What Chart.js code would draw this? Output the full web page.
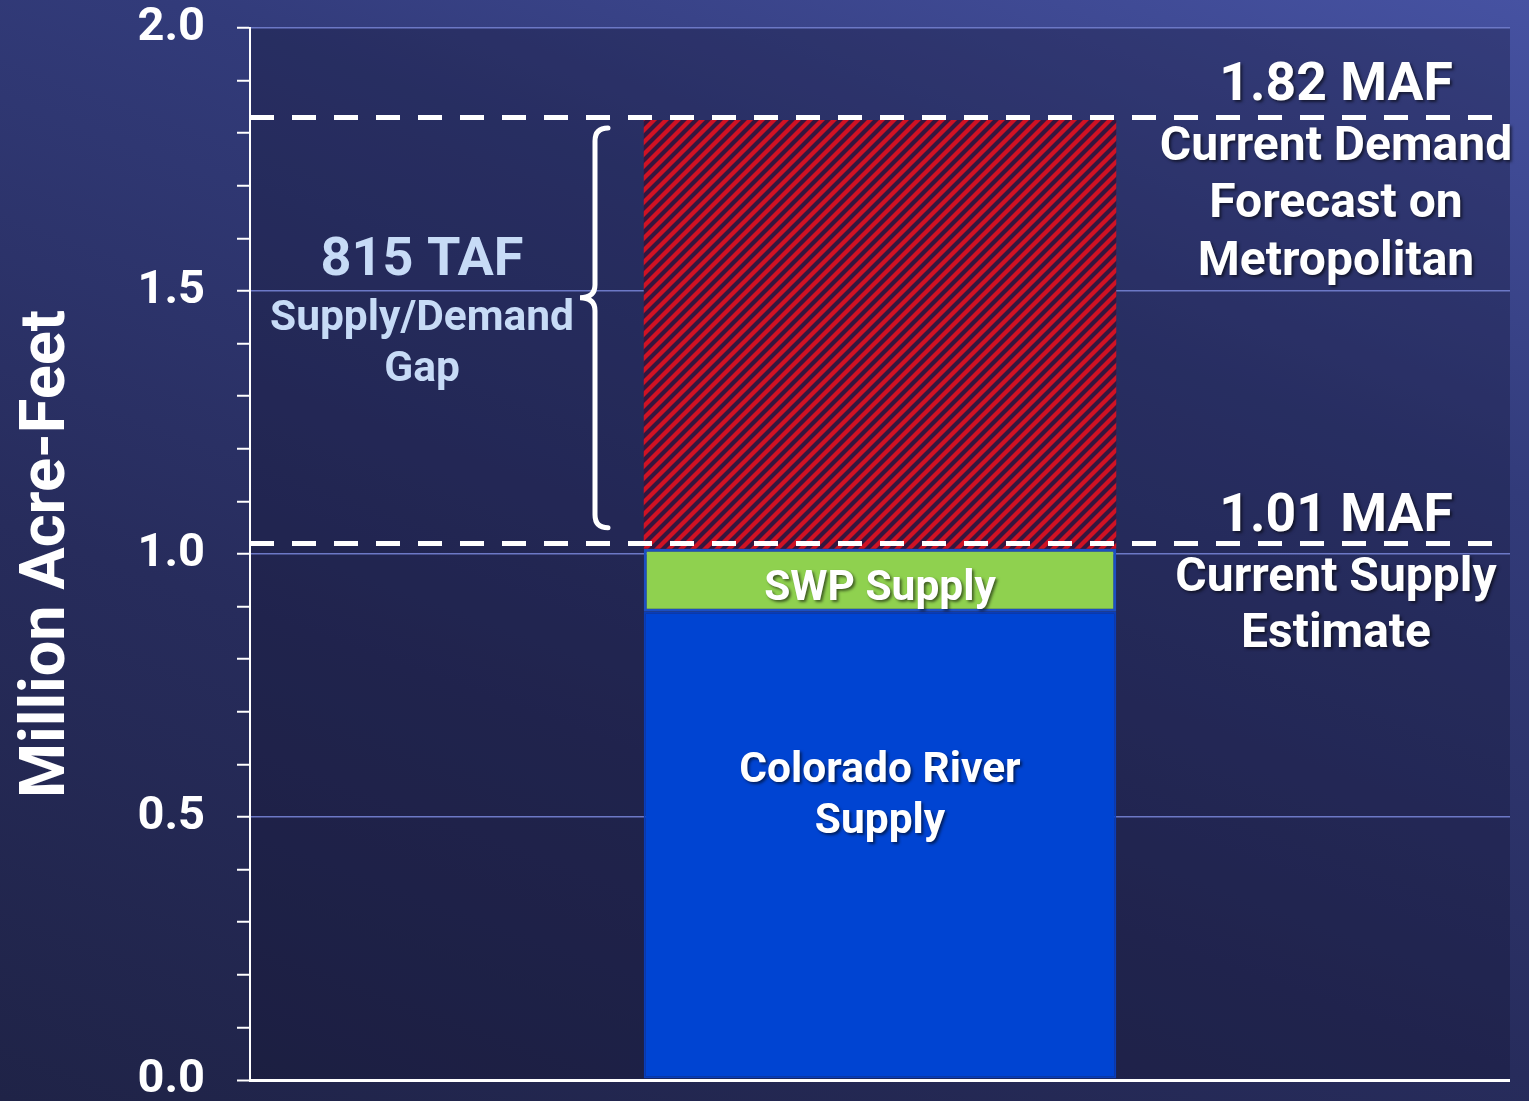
<!DOCTYPE html>
<html>
<head>
<meta charset="utf-8">
<script src="https://cdn.jsdelivr.net/npm/chart.js@4.4.1/dist/chart.umd.min.js"></script>
<style>
  html, body { margin: 0; padding: 0; }
  body {
    width: 1529px; height: 1101px; overflow: hidden;
    background: linear-gradient(200deg, #4652a2 0%, #323b7a 30%, #272c5c 65%, #1f2347 100%);
  }
  canvas { display: block; }
</style>
</head>
<body>
<canvas id="supplyChart" width="1529" height="1101"></canvas>
<script>
// values (million acre-feet)
const categories = [""];
const coloradoSupply = [0.89];
const swpSupply = [0.12];
const supplyGap = [0.815];
const majorTicks = [0, 0.5, 1.0, 1.5, 2.0];
const demandLevel = 1.83;
const supplyLevel = 1.02;

const FONT = "Roboto, 'Noto Sans', sans-serif";

// red / dark diagonal hatch for the gap
function makeHatch() {
  const s = 12;
  const c = document.createElement("canvas");
  c.width = s; c.height = s;
  const g = c.getContext("2d");
  g.fillStyle = "#d01224";
  g.fillRect(0, 0, s, s);
  g.strokeStyle = "#35163f";
  g.lineWidth = 4.2;
  g.beginPath();
  g.moveTo(-s / 2, s / 2); g.lineTo(s / 2, -s / 2);
  g.moveTo(0, s); g.lineTo(s, 0);
  g.moveTo(s / 2, s * 1.5); g.lineTo(s * 1.5, s / 2);
  g.stroke();
  return g.createPattern(c, "repeat");
}

function isMajor(v) {
  return majorTicks.some(m => Math.abs(m - v) < 1e-6);
}

const plotBackground = {
  id: "plotBackground",
  beforeDraw(chart) {
    const { ctx, chartArea: a } = chart;
    ctx.save();
    ctx.fillStyle = "rgba(18, 20, 48, 0.32)";
    ctx.fillRect(a.left, a.top, a.right - a.left, a.bottom - a.top);
    ctx.restore();
  }
};

function txt(ctx, s, x, y, size, color, shadow) {
  ctx.font = "bold " + size + "px " + FONT;
  ctx.fillStyle = color;
  if (shadow) {
    ctx.shadowColor = "rgba(0,0,0,0.55)";
    ctx.shadowOffsetX = 2; ctx.shadowOffsetY = 2; ctx.shadowBlur = 3;
  } else {
    ctx.shadowColor = "transparent";
  }
  ctx.fillText(s, x, y);
}

const overlays = {
  id: "overlays",
  afterDatasetsDraw(chart) {
    const { ctx, chartArea: a, scales: { y } } = chart;
    ctx.save();

    // dashed reference lines
    ctx.strokeStyle = "#ffffff";
    ctx.lineWidth = 5;
    ctx.setLineDash([24, 18]);
    [demandLevel, supplyLevel].forEach(v => {
      const py = y.getPixelForValue(v);
      ctx.beginPath();
      ctx.moveTo(a.left, py);
      ctx.lineTo(a.right, py);
      ctx.stroke();
    });
    ctx.setLineDash([]);

    // curly brace
    const bx = 595, r = 13;
    const top = y.getPixelForValue(1.81);
    const bot = y.getPixelForValue(1.05);
    const mid = (top + bot) / 2 - 30;
    ctx.lineWidth = 5;
    ctx.lineCap = "round";
    ctx.beginPath();
    ctx.moveTo(bx + r, top);
    ctx.quadraticCurveTo(bx, top, bx, top + r);
    ctx.lineTo(bx, mid - r);
    ctx.quadraticCurveTo(bx, mid, bx - 15, mid);
    ctx.quadraticCurveTo(bx, mid, bx, mid + r);
    ctx.lineTo(bx, bot - r);
    ctx.quadraticCurveTo(bx, bot, bx + r, bot);
    ctx.stroke();

    ctx.textAlign = "center";
    ctx.textBaseline = "middle";
    const light = "#c7dbf6";
    txt(ctx, "815 TAF", 422, 261, 54, light, false);
    txt(ctx, "Supply/Demand", 422, 319, 42.5, light, false);
    txt(ctx, "Gap", 422, 370, 42.5, light, false);

    const rx = 1336;
    txt(ctx, "1.82 MAF", rx, 87, 53.5, "#ffffff", true);
    txt(ctx, "Current Demand", rx, 148, 48, "#ffffff", true);
    txt(ctx, "Forecast on", rx, 205, 48, "#ffffff", true);
    txt(ctx, "Metropolitan", rx, 263, 48, "#ffffff", true);
    txt(ctx, "1.01 MAF", rx, 518, 53.5, "#ffffff", true);
    txt(ctx, "Current Supply", rx, 579, 48, "#ffffff", true);
    txt(ctx, "Estimate", rx, 635, 48, "#ffffff", true);

    const cx = (a.left + a.right) / 2;
    txt(ctx, "SWP Supply", cx, 589, 42.5, "#ffffff", true);
    txt(ctx, "Colorado River", cx, 771, 42.5, "#ffffff", true);
    txt(ctx, "Supply", cx, 822, 42.5, "#ffffff", true);
    ctx.restore();
  }
};

const supplyChart = new Chart(document.getElementById("supplyChart"), {
  type: "bar",
  data: {
    labels: categories,
    datasets: [
      {
        label: "Colorado River Supply",
        data: coloradoSupply,
        backgroundColor: "#0044d2",
        borderColor: "#0a3db8",
        borderWidth: 2,
        borderSkipped: false,
      },
      {
        label: "SWP Supply",
        data: swpSupply,
        backgroundColor: "#8fd14f",
        borderColor: "#1c4fc2",
        borderWidth: 3,
        borderSkipped: false,
      },
      {
        label: "Supply/Demand Gap",
        data: supplyGap,
        backgroundColor: makeHatch(),
        borderWidth: 0,
      },
    ],
  },
  options: {
    responsive: false,
    animation: false,
    devicePixelRatio: 1,
    layout: { padding: { top: 28, right: 19, bottom: 21, left: 0 } },
    datasets: { bar: { barPercentage: 1, categoryPercentage: 0.375 } },
    plugins: { legend: { display: false }, tooltip: { enabled: false } },
    scales: {
      x: { stacked: true, display: false },
      y: {
        stacked: true,
        min: 0,
        max: 2,
        afterFit(scale) {
          scale.width = 250;
          scale.paddingTop = 0;
          scale.paddingBottom = 0;
        },
        border: { color: "#ffffff", width: 2 },
        grid: {
          drawTicks: true,
          tickLength: 13,
          tickColor: "#ffffff",
          tickWidth: 2,
          color: ctx => {
            const v = ctx.tick ? ctx.tick.value : 0;
            if (Math.abs(v) < 1e-6) return "#ffffff";
            return isMajor(v) ? "#6c78c6" : "rgba(0,0,0,0)";
          },
          lineWidth: ctx => (ctx.tick && Math.abs(ctx.tick.value) < 1e-6 ? 3 : 1.5),
        },
        ticks: {
          stepSize: 0.1,
          autoSkip: false,
          padding: 32,
          color: "#ffffff",
          font: { family: FONT, size: 47, weight: "bold", lineHeight: 0.8 },
          callback: v => (isMajor(v) ? Number(v).toFixed(1) : ""),
        },
        title: {
          display: true,
          text: "Million Acre-Feet",
          color: "#ffffff",
          font: { family: FONT, size: 63, weight: "bold", lineHeight: 1.2 },
          padding: { top: 10, bottom: 0 },
        },
      },
    },
  },
  plugins: [plotBackground, overlays],
});
</script>
</body>
</html>
